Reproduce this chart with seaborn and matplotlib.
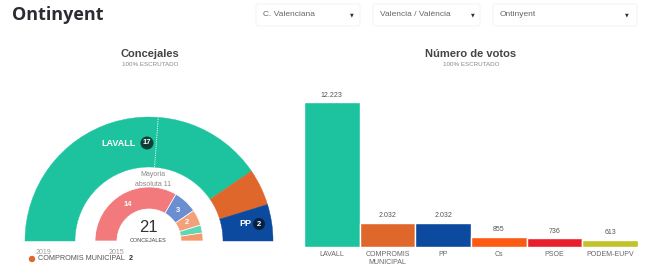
import matplotlib
matplotlib.use("Agg")
import matplotlib.pyplot as plt
from matplotlib.patches import Wedge, Circle, FancyBboxPatch
import seaborn as sns
import numpy as np

# datos
municipio = "Ontinyent"
selectores = ["C. Valenciana", "Valencia / València", "Ontinyent"]

partidos_2019 = ["LAVALL", "COMPROMIS MUNICIPAL", "PP"]
concejales_2019 = [17, 2, 2]
colores_2019 = ["#1cc39e", "#e0672b", "#0b4a9e"]

concejales_2015 = [14, 3, 2, 1, 1]
colores_2015 = ["#f27a7d", "#6a8fd0", "#f4a07a", "#62d6b4", "#f49a6c"]

partidos_votos = ["LAVALL", "COMPROMIS\nMUNICIPAL", "PP", "Cs", "PSOE", "PODEM-EUPV"]
votos = [12223, 2032, 2032, 855, 736, 613]
colores_votos = ["#1cc39e", "#e0672b", "#0b4a9e", "#fc5a12", "#e8202d", "#c0c229"]

mayoria = 11

sns.set_style("white")
plt.rcParams['font.family'] = ['Liberation Sans', 'DejaVu Sans']

W, H = 650, 278
fig = plt.figure(figsize=(6.5, 2.78), dpi=100)
ax = fig.add_axes([0, 0, 1, 1])
ax.set_xlim(0, W)
ax.set_ylim(0, H)
ax.axis("off")

def Y(y):  # pixel desde arriba -> coordenada
    return H - y

gris = "#666666"

# cabecera
ax.text(12, Y(15), municipio, fontsize=13, fontweight="bold", color="#2b2d33",
        family="Open Sans", va="center")
cajas = [(256, 360, 352), (373, 480, 473), (493, 637, 627)]
for nombre, (x0, x1, xa) in zip(selectores, cajas):
    ax.add_patch(FancyBboxPatch((x0, Y(26)), x1 - x0, 22, boxstyle="round,pad=0,rounding_size=2",
                                fc="#ffffff", ec="#f2f2f2", lw=0.6))
    ax.text(x0 + 7, Y(15), nombre, fontsize=6, color="#666666", va="center")
    ax.text(xa, Y(15), "▼", fontsize=3.5, color="#333333", va="center", ha="center",
            family="DejaVu Sans")

# titulos
ax.text(150, Y(54), "Concejales", fontsize=8, fontweight="bold", color="#444444", ha="center", va="center")
ax.text(150, Y(64), "100% ESCRUTADO", fontsize=4.5, color="#888888", ha="center", va="center")
ax.text(471, Y(54), "Número de votos", fontsize=8, fontweight="bold", color="#444444", ha="center", va="center")
ax.text(471, Y(64), "100% ESCRUTADO", fontsize=4.5, color="#888888", ha="center", va="center")

# hemiciclo
cx, cy = 149, Y(241)

def anillo(seats, colores, r, w, ec=None):
    total = sum(seats)
    ini = 180.0
    mids = []
    for s, c in zip(seats, colores):
        fin = ini - 180.0 * s / total
        ax.add_patch(Wedge((cx, cy), r, fin, ini, width=w, fc=c,
                           ec=ec if ec else c, lw=0.5 if ec else 0.3))
        mids.append((ini + fin) / 2)
        ini = fin
    return mids

anillo(concejales_2019, colores_2019, 124, 50)
mids15 = anillo(concejales_2015, colores_2015, 54, 22, ec="white")

ang = np.deg2rad(180 - 180.0 * mayoria / sum(concejales_2019))
ax.plot([cx + 74 * np.cos(ang), cx + 124 * np.cos(ang)],
        [cy + 74 * np.sin(ang), cy + 124 * np.sin(ang)],
        color="white", lw=0.6, ls=(0, (1.5, 1.2)))

ax.text(153, Y(175), "Mayoria", fontsize=5, color="#888888", ha="center", va="center")
ax.text(153, Y(184), "absoluta " + str(mayoria), fontsize=5, color="#888888", ha="center", va="center")

for m, n in zip(mids15[:3], concejales_2015[:3]):
    a = np.deg2rad(m)
    ax.text(cx + 42 * np.cos(a), cy + 42 * np.sin(a), str(n), fontsize=5.5,
            fontweight="bold", color="white", ha="center", va="center")

ax.text(148, Y(228), str(sum(concejales_2019)), fontsize=12, color="#333333", ha="center", va="center")
ax.text(148, Y(240), "CONCEJALES", fontsize=4, color="#444444", ha="center", va="center")

# etiquetas de partido
ax.text(119, Y(143), partidos_2019[0], fontsize=6.5, fontweight="bold", color="white", ha="center", va="center")
ax.add_patch(Circle((147, Y(143)), 6.5, fc="#0f3d36", ec="none"))
ax.text(147, Y(143), str(concejales_2019[0]), fontsize=5.5, fontweight="bold", color="white", ha="center", va="center")
ax.text(245, Y(224), partidos_2019[2], fontsize=6.5, fontweight="bold", color="white", ha="center", va="center")
ax.add_patch(Circle((259, Y(224)), 6, fc="#07203f", ec="none"))
ax.text(259, Y(224), str(concejales_2019[2]), fontsize=5.5, fontweight="bold", color="white", ha="center", va="center")

ax.text(36, Y(252), "2019", fontsize=5, color="#999999", va="center")
ax.text(109, Y(252), "2015", fontsize=5, color="#999999", va="center")
ax.add_patch(Circle((32, Y(259)), 3.2, fc=colores_2019[1], ec="none"))
ax.text(38, Y(259), partidos_2019[1], fontsize=5.2, color="#555555", va="center")
ax.text(129, Y(259), str(concejales_2019[1]), fontsize=5.2, fontweight="bold", color="#333333", va="center")

# barras
bax = fig.add_axes([304 / W, 31 / H, 334 / W, 145 / H])
bax.patch.set_alpha(0)
sns.barplot(x=partidos_votos, y=votos, hue=partidos_votos, palette=colores_votos,
            width=1, saturation=1, legend=False, ax=bax)
bax.set_xlim(-0.5, len(votos) - 0.5)
bax.set_ylim(0, max(votos))
for i, v in enumerate(votos):
    bax.annotate(f"{v:,}".replace(",", "."), (i, v), xytext=(0, 2.5), textcoords="offset points",
                 ha="center", va="bottom", fontsize=5, color="#555555", annotation_clip=False)
bax.set_xticks(range(len(partidos_votos)))
bax.set_xticklabels(partidos_votos, fontsize=5, color=gris, linespacing=1.1)
bax.tick_params(axis="x", length=0, pad=3)
bax.set_yticks([])
bax.set_ylabel("")
sns.despine(ax=bax, left=True, bottom=True)

fig.savefig("out.png", dpi=100)
